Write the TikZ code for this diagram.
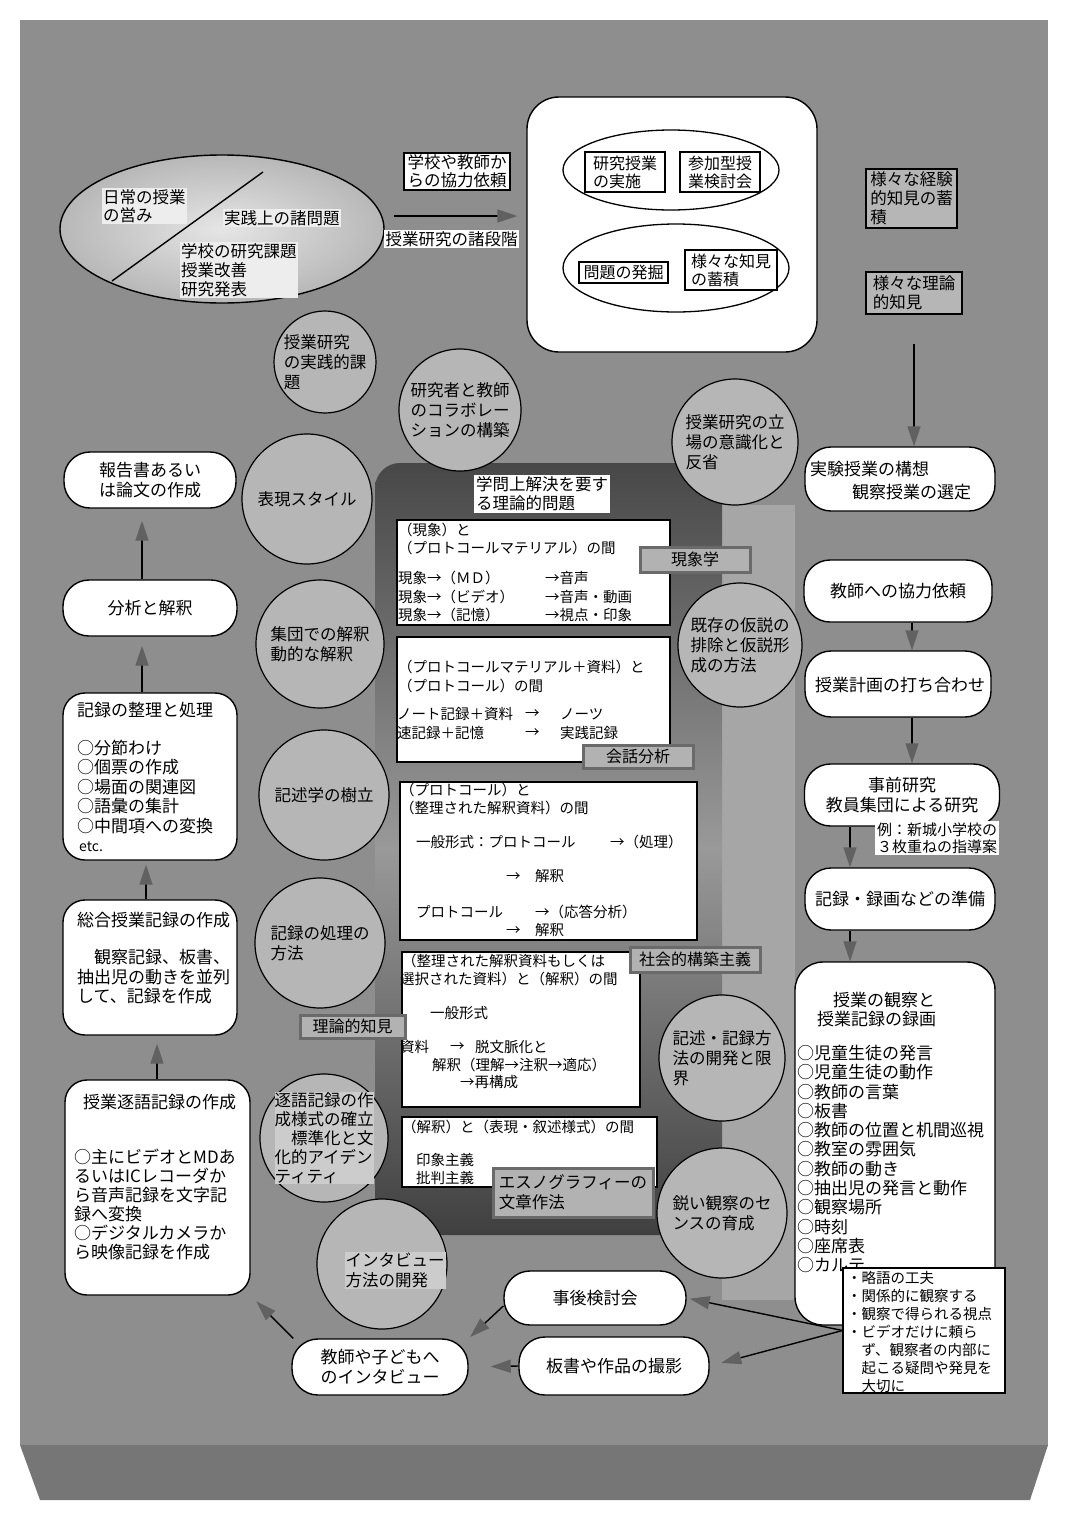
\documentclass[tikz,border=0pt]{standalone}
\usepackage{fontspec}
\setmainfont{Noto Sans CJK JP}
\usetikzlibrary{arrows.meta,shapes.geometric}
\newcommand\myfs[2]{\fontsize{#1}{#2}\selectfont}
\definecolor{bgc}{HTML}{8E8E8E}
\definecolor{circc}{HTML}{B6B6B6}
\definecolor{labc}{HTML}{B2B2B2}
\definecolor{labd}{HTML}{6A6A6A}
\definecolor{stripc}{HTML}{A6A6A6}
\definecolor{bandc}{HTML}{767676}
\newcounter{lnc}
\newcommand\putl[4][]{\stepcounter{lnc}\node[tl,#1] (t\arabic{lnc}) at (#2,#3) {#4};}
\tikzset{
  pill/.style={draw, fill=white, line width=1.4pt, rounded corners=26pt, align=center, font=\myfs{17}{20}, inner sep=2pt},
  rbox/.style={draw, fill=white, line width=1.4pt, rounded corners=22pt},
  circn/.style={circle, draw, fill=circc, line width=1.2pt, inner sep=0pt},
  ctext/.style={align=left, font=\myfs{16.5}{20}, inner sep=0pt},
  wbox/.style={draw, fill=white, line width=1.1pt, inner sep=0pt},
  labn/.style={draw=labd, fill=labc, line width=3pt, inner sep=0pt, font=\myfs{16}{19}},
  tl/.style={anchor=west, inner sep=0pt, font=\myfs{14.5}{18}},
  lf/.style={font=\myfs{17}{20}},
  nf/.style={font=\myfs{14.5}{18}},
  arr/.style={line width=1.4pt, -{Triangle[length=20pt,width=13pt,color=black!62]}},
  pale/.style={fill=black!7, inner sep=1pt, align=left, font=\myfs{16.5}{18.5}},
}
\begin{document}
\begin{tikzpicture}[x=1pt,y=-1pt]
\useasboundingbox (0,0) rectangle (1067,1515);
\fill[white] (0,0) rectangle (1067,1515);
\fill[bgc] (20,20) rectangle (1048,1445);
\fill[bandc] (20,1445) -- (1048,1445) -- (1030,1500) -- (40,1500) -- cycle;
\fill[stripc] (722,505) rectangle (795,1300);

% ---------- top left ellipse ----------
\node[ellipse, draw, line width=1.4pt, inner color=black!10, outer color=black!28, minimum width=324pt, minimum height=148pt] (ell) at (222,229) {};
\coordinate (dl1) at (112,281);
\coordinate (dl2) at (263,172);
\draw[line width=1.4pt] (dl1) -- (dl2);
\node[pale, anchor=north west] (e1) at (102,188) {日常の授業\\の営み};
\node[pale, anchor=west] (e2) at (223,218) {実践上の諸問題};
\node[pale, anchor=north west, font=\myfs{16.5}{19}] (e3) at (180,242) {学校の研究課題\\授業改善\\研究発表};

% ---------- top middle ----------
\node[draw, fill=white, line width=1.4pt, rounded corners=32pt, minimum width=290pt, minimum height=255pt] (BB) at (672,224.5) {};
\node[ellipse, draw, line width=1.3pt, minimum width=216pt, minimum height=80pt] (EU) at (671,170) {};
\node[ellipse, draw, line width=1.3pt, minimum width=226pt, minimum height=88pt] (ED) at (676,268) {};
\node[wbox, minimum width=80pt, minimum height=40pt, align=left, font=\myfs{16}{18}] (k1) at (625,172) {研究授業\\の実施};
\node[wbox, minimum width=80pt, minimum height=40pt, align=left, font=\myfs{16}{18}] (k2) at (720,172) {参加型授\\業検討会};
\node[wbox, minimum width=89pt, minimum height=21pt, font=\myfs{16}{18}] (k3) at (623.5,272.5) {問題の発掘};
\node[wbox, minimum width=92pt, minimum height=40pt, align=left, font=\myfs{16}{18}] (k4) at (731,270) {様々な知見\\の蓄積};

\node[wbox, minimum width=106pt, minimum height=37pt, align=left, font=\myfs{16.5}{18}] (req) at (457,171.5) {学校や教師か\\らの協力依頼};
\coordinate (a0s) at (394,216);
\draw[arr, shorten >=9pt] (a0s) -- (a0s -| BB.west);
\node[fill=white, inner sep=1.5pt, font=\myfs{16.5}{18}] (stg) at (451.5,239) {授業研究の諸段階};

% ---------- top right ----------
\node[draw, fill=circc, line width=1.3pt, minimum width=91pt, minimum height=59pt, align=left, inner sep=0pt, font=\myfs{16.5}{19}] (TK1) at (911.5,198.5) {様々な経験\\的知見の蓄\\積\hspace{4em}};
\node[draw, fill=circc, line width=1.3pt, minimum width=96pt, minimum height=42pt, align=left, inner sep=0pt, font=\myfs{16.5}{19}] (TK2) at (914,293) {様々な理論\\的知見\hspace{2em}};

% ---------- center box ----------
\node[rounded corners=25pt, minimum width=347pt, minimum height=772pt, top color=black!72, bottom color=black!75, middle color=black!40] (CB) at (548.5,849) {};
\node[fill=white, inner sep=2pt, align=left, font=\myfs{16.5}{19}] (Q) at (542,494) {学問上解決を要す\\る理論的問題};
\node[wbox, minimum width=273pt, minimum height=105pt] (W1) at (533.5,572.5) {};
\node[wbox, minimum width=273pt, minimum height=125pt] (W2) at (533.5,699.5) {};
\node[wbox, minimum width=297pt, minimum height=158pt] (W3) at (548.5,861) {};
\node[wbox, minimum width=238pt, minimum height=155pt] (W4) at (521,1029.5) {};
\node[wbox, minimum width=255pt, minimum height=70pt] (W5) at (529.5,1152) {};

\putl{398}{530}{（現象）と}
\putl{398}{548}{（プロトコールマテリアル）の間}
\putl{398}{578}{現象→（ＭＤ）}\putl{545}{578}{→音声}
\putl{398}{597}{現象→（ビデオ）}\putl{545}{597}{→音声・動画}
\putl{398}{615}{現象→（記憶）}\putl{545}{615}{→視点・印象}

\putl{398}{667}{（プロトコールマテリアル＋資料）と}
\putl{398}{686}{（プロトコール）の間}
\putl{397}{714}{ノート記録＋資料}\putl{525}{714}{→}\putl{560}{714}{ノーツ}
\putl{397}{733}{速記録＋記憶}\putl{525}{733}{→}\putl{560}{733}{実践記録}

\putl{400}{790}{（プロトコール）と}
\putl{400}{808}{（整理された解釈資料）の間}
\putl{416}{842}{一般形式：プロトコール}\putl{610}{842}{→（処理）}
\putl{506}{876}{→　解釈}
\putl{416}{912}{プロトコール}\putl{535}{912}{→（応答分析）}
\putl{506}{930}{→　解釈}

\putl{402}{961}{（整理された解釈資料もしくは}
\putl{400}{979}{選択された資料）と（解釈）の間}
\putl{430}{1013}{一般形式}
\putl{400}{1047}{資料}\putl{450}{1047}{→}\putl{475}{1047}{脱文脈化と}
\putl{432}{1065}{解釈（理解→注釈→適応）}
\putl{460}{1082}{→再構成}

\putl{402}{1127}{（解釈）と（表現・叙述様式）の間}
\putl{416}{1160}{印象主義}
\putl{416}{1178}{批判主義}

\node[labn, minimum width=110pt, minimum height=25pt] (G1) at (695,559.5) {現象学};
\node[labn, minimum width=110pt, minimum height=23pt] (G2) at (638,756.5) {会話分析};
\node[labn, minimum width=130pt, minimum height=25pt] (G3) at (695,959.5) {社会的構築主義};
\node[labn, minimum width=105pt, minimum height=23pt] (G4) at (352.5,1026.5) {理論的知見};
\node[labn, minimum width=160pt, minimum height=49pt, align=left, font=\myfs{16.5}{20}] (G5) at (573,1192.5) {エスノグラフィーの\\文章作法};

% ---------- circles ----------
\node[circn, minimum size=102pt] (C1) at (325,362) {};
\node[ctext] (C1t) at (C1) {授業研究\\の実践的課\\題};
\node[circn, minimum size=122pt] (C2) at (460,410) {};
\node[ctext] (C2t) at (C2) {研究者と教師\\のコラボレー\\ションの構築};
\node[circn, minimum size=126pt] (C3) at (735,442) {};
\node[ctext] (C3t) at (C3) {授業研究の立\\場の意識化と\\反省};
\node[circn, minimum size=130pt] (C4) at (307,499) {};
\node[ctext] (C4t) at (C4) {表現スタイル};
\node[circn, minimum size=128pt] (C5) at (320,644) {};
\node[ctext] (C5t) at (C5) {集団での解釈\\動的な解釈};
\node[circn, minimum size=124pt] (C6) at (740,645) {};
\node[ctext] (C6t) at (C6) {既存の仮説の\\排除と仮説形\\成の方法};
\node[circn, minimum size=130pt] (C7) at (324,795) {};
\node[ctext] (C7t) at (C7) {記述学の樹立};
\node[circn, minimum size=130pt] (C8) at (320,943) {};
\node[ctext] (C8t) at (C8) {記録の処理の\\方法};
\node[circn, minimum size=126pt] (C9) at (722,1058) {};
\node[ctext] (C9t) at (C9) {記述・記録方\\法の開発と限\\界};
\node[circn, minimum size=130pt] (C10) at (722,1213) {};
\node[ctext] (C10t) at (C10) {鋭い観察のセ\\ンスの育成};
\node[circn, minimum size=128pt] (C11) at (324,1138) {};
\node[ctext, fill=black!20, font=\myfs{16.5}{19}] (C11t) at (C11) {逐語記録の作\\成様式の確立\\　標準化と文\\化的アイデン\\ティティ};
\node[circn, minimum size=130pt] (C12) at (382,1264) {};
\node[ctext, fill=black!20, inner sep=1pt] (C12t) at (395,1270) {インタビュー\\方法の開発};

% ---------- left column ----------
\node[pill, minimum width=172pt, minimum height=56pt] (L1) at (150,480) {報告書あるい\\は論文の作成};
\node[pill, minimum width=174pt, minimum height=56pt] (L2) at (150,608) {分析と解釈};
\node[rbox, minimum width=174pt, minimum height=167pt] (L3) at (150,776.5) {};
\node[rbox, minimum width=174pt, minimum height=135pt] (L4) at (150,967.5) {};
\node[rbox, minimum width=185pt, minimum height=215pt] (L5) at (157.5,1187.5) {};
\putl[lf]{77}{710}{記録の整理と処理}
\putl[lf]{77}{748}{○分節わけ}
\putl[lf]{77}{767.5}{○個票の作成}
\putl[lf]{77}{787}{○場面の関連図}
\putl[lf]{77}{806.5}{○語彙の集計}
\putl[lf]{77}{826}{○中間項への変換}
\putl[font=\myfs{14}{16}]{79}{847}{etc.}
\putl[lf]{77}{920}{総合授業記録の作成}
\putl[lf]{77}{957}{　観察記録、板書、}
\putl[lf]{77}{977}{抽出児の動きを並列}
\putl[lf]{77}{996}{して、記録を作成}
\putl[lf]{83}{1102}{授業逐語記録の作成}
\putl[lf]{74}{1157}{○主にビデオとMDあ}
\putl[lf]{74}{1176}{るいはICレコーダか}
\putl[lf]{74}{1195}{ら音声記録を文字記}
\putl[lf]{74}{1214}{録へ変換}
\putl[lf]{74}{1233}{○デジタルカメラか}
\putl[lf]{74}{1252}{ら映像記録を作成}

\draw[arr, shorten >=12pt] ([xshift=-8pt]L2.north) -- ([xshift=-8pt]L1.south);
\draw[arr, shorten >=9pt] ([xshift=-8pt]L3.north) -- ([xshift=-8pt]L2.south);
\draw[arr, shorten >=4pt] ([xshift=-4pt]L4.north) -- ([xshift=-4pt]L3.south);
\draw[arr, shorten >=8pt] ([xshift=-0.5pt]L5.north) -- ([xshift=7pt]L4.south);

% ---------- right column ----------
\node[pill, minimum width=190pt, minimum height=64pt] (R1) at (900,479) {};
\putl[lf]{810}{469}{実験授業の構想}
\putl[lf]{852}{492}{観察授業の選定}
\node[pill, minimum width=188pt, minimum height=62pt] (R2) at (898,591) {教師への協力依頼};
\node[pill, minimum width=186pt, minimum height=66pt] (R3) at (898,684) {};
\node[fill=white, inner sep=3pt, anchor=west, font=\myfs{17}{20}] (R3t) at (812,685) {授業計画の打ち合わせ\hspace{12pt}};
\node[pill, minimum width=195pt, minimum height=62pt] (R4) at (902,795) {事前研究\\教員集団による研究};
\node[fill=white, inner sep=2pt, align=left, font=\myfs{15}{17}] (R4n) at (937,838) {例：新城小学校の\\３枚重ねの指導案};
\node[pill, minimum width=190pt, minimum height=62pt] (R5) at (900,899) {記録・録画などの準備};
\node[rbox, rounded corners=28pt, minimum width=200pt, minimum height=363pt] (R6) at (895,1143.5) {};
\putl[lf]{833}{1000}{授業の観察と}
\putl[lf]{817}{1019}{授業記録の録画}
\putl[lf]{797}{1053}{○児童生徒の発言}
\putl[lf]{797}{1072.3}{○児童生徒の動作}
\putl[lf]{797}{1091.6}{○教師の言葉}
\putl[lf]{797}{1110.9}{○板書}
\putl[lf]{797}{1130.2}{○教師の位置と机間巡視}
\putl[lf]{797}{1149.5}{○教室の雰囲気}
\putl[lf]{797}{1168.8}{○教師の動き}
\putl[lf]{797}{1188.1}{○抽出児の発言と動作}
\putl[lf]{797}{1207.4}{○観察場所}
\putl[lf]{797}{1226.7}{○時刻}
\putl[lf]{797}{1246}{○座席表}
\putl[lf]{797}{1265.3}{○カルテ}
\node[draw, fill=white, line width=1.1pt, minimum width=162pt, minimum height=125pt] (N2) at (924,1330.5) {};
\putl[nf]{847}{1278}{・略語の工夫}
\putl[nf]{847}{1296}{・関係的に観察する}
\putl[nf]{847}{1314}{・観察で得られる視点}
\putl[nf]{847}{1332}{・ビデオだけに頼ら}
\putl[nf]{847}{1350}{　ず、観察者の内部に}
\putl[nf]{847}{1368}{　起こる疑問や発見を}
\putl[nf]{847}{1386}{　大切に}

\draw[arr] ([yshift=-29pt]TK2.south) -- (TK2.south |- R1.north);
\draw[arr] ([xshift=14pt]R2.south) -- ([xshift=14pt]R2.south |- R3.north);
\draw[arr] ([xshift=14pt]R3.south) -- ([xshift=14pt]R3.south |- R4.north);
\draw[arr] ([xshift=-52pt]R4.south) -- ([xshift=-52pt]R4.south |- R5.north);
\draw[arr] ([xshift=-50pt]R5.south) -- ([xshift=-50pt]R5.south |- R6.north);

% ---------- bottom ----------
\node[pill, minimum width=182pt, minimum height=54pt] (B1) at (595,1298) {事後検討会};
\node[pill, minimum width=190pt, minimum height=58pt] (B2) at (614,1366) {板書や作品の撮影};
\node[pill, minimum width=176pt, minimum height=56pt, align=left] (B3) at (380,1367) {教師や子どもへ\\のインタビュー};

\draw[arr, shorten >=3pt] (N2.west) -- (B1.east);
\draw[arr, shorten >=12pt] (N2.west) -- (B2.east);
\draw[arr, shorten >=2pt] ([yshift=-8pt]B1.west) -- (B3.north east);
\draw[arr, shorten >=22pt] (B2.west) -- (B3.east);
\draw[arr, shorten >=8pt] ([xshift=2pt]B3.north west) -- (L5.south east);
\end{tikzpicture}
\end{document}
